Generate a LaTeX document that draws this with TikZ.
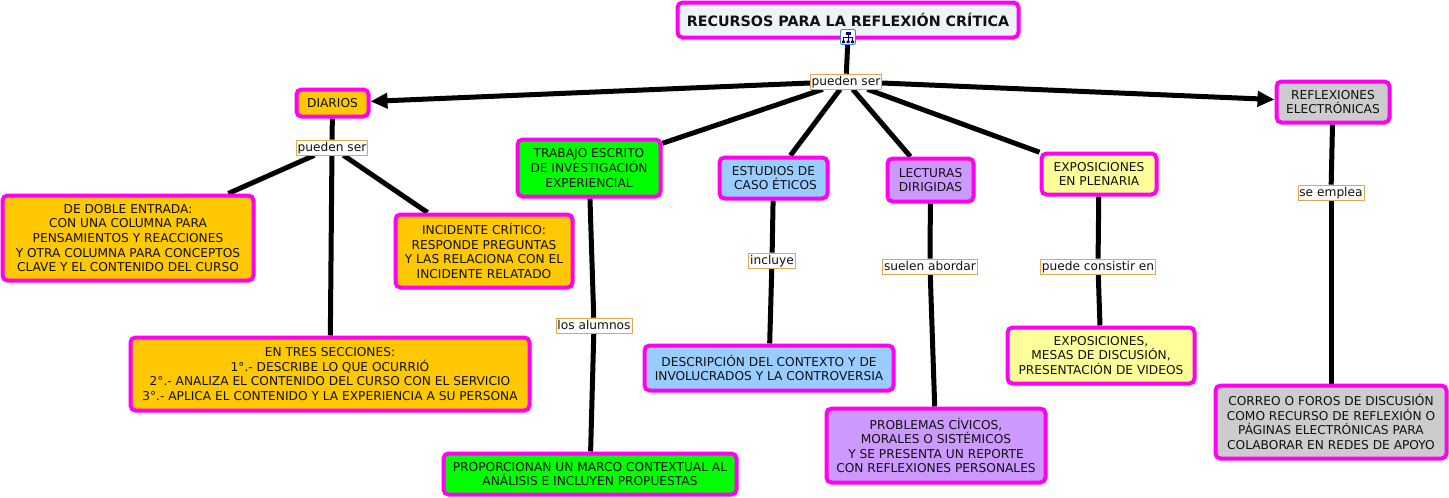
\documentclass[tikz,border=0pt]{standalone}
\usepackage{fontspec}
\setmainfont{DejaVu Sans}
\usetikzlibrary{arrows.meta,backgrounds}
\definecolor{mag}{HTML}{FF00F0}
\definecolor{orangeb}{HTML}{FFC800}
\definecolor{greenb}{HTML}{00FF00}
\definecolor{blueb}{HTML}{99CCFF}
\definecolor{purpleb}{HTML}{CC99FF}
\definecolor{yellowb}{HTML}{FFFF99}
\definecolor{greyb}{HTML}{CCCCCC}
\definecolor{titleb}{HTML}{EEF3F7}
\definecolor{labb}{HTML}{E0A850}
\definecolor{ink}{HTML}{111111}
\newcommand{\tsp}{\hspace*{4pt}}
\newcommand{\lsp}{\hspace*{4pt}}
\tikzset{
 cbox/.style={draw=mag,line width=4pt,rounded corners=5pt,align=center,inner sep=0pt,text=ink,font=\fontsize{12.2}{14.6}\selectfont},
 lab/.style={draw=labb,line width=0.8pt,fill=white,inner sep=1.4pt,text=ink,font=\fontsize{12.2}{13}\selectfont,text height=9.5pt,text depth=2.5pt},
 conn/.style={line width=5pt,black},
 arr/.style={conn,-{Triangle[length=17pt,width=15pt]}},
}
\begin{document}
\begin{tikzpicture}[x=1pt,y=-1pt]
\useasboundingbox (0,0) rectangle (1449,498);
\node[cbox,fill=titleb,minimum width=341pt,minimum height=35pt,font=\fontsize{14.3}{16}\selectfont\bfseries] (title) at (848,20) {RECURSOS PARA LA REFLEXIÓN CRÍTICA};
\node[lab] (l0) at (846,81.5) {pueden ser};
\node[cbox,fill=orangeb,minimum width=72pt,minimum height=27pt] (diarios) at (332.5,103) {DIARIOS};
\node[cbox,fill=greyb,minimum width=113pt,minimum height=41pt] (refl) at (1333,102) {REFLEXIONES\\ELECTRÓNICAS};
\node[cbox,fill=greenb,minimum width=143pt,minimum height=57pt] (trab) at (589,168) {TRABAJO ESCRITO\\DE INVESTIGACIÓN\\EXPERIENCIAL};
\node[cbox,fill=blueb,minimum width=108pt,minimum height=41pt] (est) at (773.5,178) {ESTUDIOS DE\\\lsp CASO ÉTICOS};
\node[cbox,fill=purpleb,minimum width=86pt,minimum height=43pt] (lect) at (930.5,180) {LECTURAS\\DIRIGIDAS};
\node[cbox,fill=yellowb,minimum width=115pt,minimum height=41pt] (expo) at (1099,174) {EXPOSICIONES\\EN PLENARIA};
\node[lab] (l1) at (332,147.5) {pueden ser};
\node[cbox,fill=orangeb,minimum width=251pt,minimum height=85pt] (doble) at (128,238) {DE DOBLE ENTRADA:\\CON UNA COLUMNA PARA\tsp\\PENSAMIENTOS Y REACCIONES\\Y OTRA COLUMNA PARA CONCEPTOS\\CLAVE Y EL CONTENIDO DEL CURSO};
\node[cbox,fill=orangeb,minimum width=177pt,minimum height=73pt] (inc) at (484,251) {INCIDENTE CRÍTICO:\\RESPONDE PREGUNTAS\tsp\\Y LAS RELACIONA CON EL\\INCIDENTE RELATADO};
\node[cbox,fill=orangeb,minimum width=399pt,minimum height=73pt] (tres) at (330,374) {EN TRES SECCIONES:\\1°.- DESCRIBE LO QUE OCURRIÓ\\2°.- ANALIZA EL CONTENIDO DEL CURSO CON EL SERVICIO\\3°.- APLICA EL CONTENIDO Y LA EXPERIENCIA A SU PERSONA};
\node[lab] (l2) at (594,325.5) {los alumnos};
\node[cbox,fill=greenb,minimum width=293pt,minimum height=41pt] (prop) at (590,474) {PROPORCIONAN UN MARCO CONTEXTUAL AL\\ANÁLISIS E INCLUYEN PROPUESTAS};
\node[lab] (l3) at (772,260.5) {incluye};
\node[cbox,fill=blueb,minimum width=249pt,minimum height=45pt] (desc) at (769,368) {DESCRIPCIÓN DEL CONTEXTO Y DE\\INVOLUCRADOS Y LA CONTROVERSIA};
\node[lab] (l4) at (930,266.5) {suelen abordar};
\node[cbox,fill=purpleb,minimum width=219pt,minimum height=74pt] (prob) at (936,445.5) {PROBLEMAS CÍVICOS,\\MORALES O SISTÉMICOS\\Y SE PRESENTA UN REPORTE\\CON REFLEXIONES PERSONALES};
\node[lab] (l5) at (1098,266.5) {puede consistir en};
\node[cbox,fill=yellowb,minimum width=187pt,minimum height=56pt] (expo2) at (1101,355.5) {EXPOSICIONES,\\MESAS DE DISCUSIÓN,\\PRESENTACIÓN DE VIDEOS};
\node[lab] (l6) at (1331,192.5) {se emplea};
\node[cbox,fill=greyb,minimum width=231pt,minimum height=73pt] (correo) at (1331,422) {CORREO O FOROS DE DISCUSIÓN\\COMO RECURSO DE REFLEXIÓN O\\PÁGINAS ELECTRÓNICAS PARA\\COLABORAR EN REDES DE APOYO};
\node[draw={rgb,255:red,70;green,130;blue,210},line width=0.9pt,fill=white,rounded corners=2pt,minimum width=15pt,minimum height=15pt,inner sep=0pt] (icon) at (848,37) {};
\fill[blue!50!black] (845.5,31.5) rectangle (850.5,34.5);
\draw[blue!50!black,line width=0.7pt] (848,34.5) -- (848,41) (843.5,41) -- (843.5,37) -- (852.5,37) -- (852.5,41);
\fill[blue!50!black] (842,40.5) rectangle (845,43) (846.5,40.5) rectangle (849.5,43) (851,40.5) rectangle (854,43);
\begin{scope}[on background layer]
\fill[white] (0,0) rectangle (1449,498);
\draw[conn] (icon) -- (l0);
\draw[arr] (l0) -- (diarios);
\draw[arr] (l0) -- (refl);
\draw[conn] (l0) -- (trab);
\draw[conn] (l0) -- (est);
\draw[conn] (l0) -- (lect);
\draw[conn] (l0) -- (expo);
\draw[conn] (diarios) -- (l1);
\draw[conn] (l1) -- (doble);
\draw[conn] (l1) -- (inc);
\draw[conn] (l1) -- (tres);
\draw[conn] (trab) -- (l2);
\draw[conn] (l2) -- (prop);
\draw[conn] (est) -- (l3);
\draw[conn] (l3) -- (desc);
\draw[conn] (lect) -- (l4);
\draw[conn] (l4) -- (prob);
\draw[conn] (expo) -- (l5);
\draw[conn] (l5) -- (expo2);
\draw[conn] (refl) -- (l6);
\draw[conn] (l6) -- (correo);
\end{scope}
\end{tikzpicture}
\end{document}
